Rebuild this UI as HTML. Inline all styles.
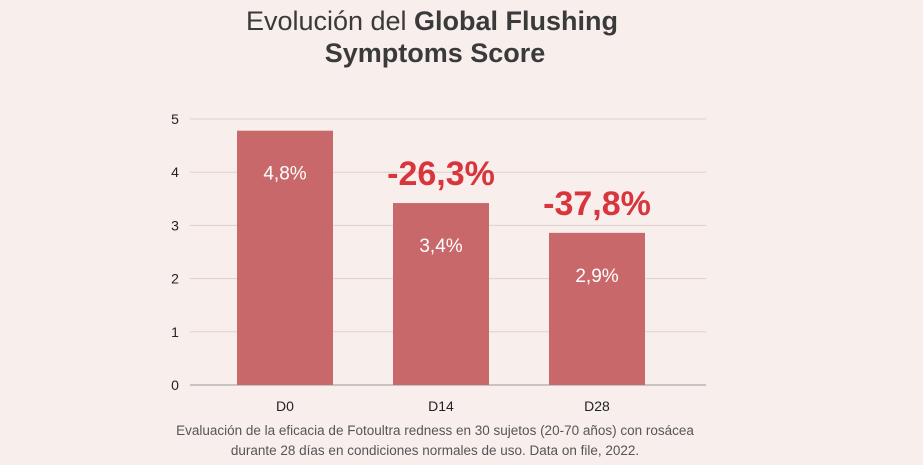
<!DOCTYPE html>
<html><head><meta charset="utf-8"><style>
body{margin:0;background:#f8efed;}
svg{display:block;font-family:"Liberation Sans",sans-serif;}
</style></head><body>
<svg id="chart" width="923" height="465" viewBox="0 0 923 465">
<rect width="923" height="465" fill="#f8efed"/>
<text x="432" y="30" text-anchor="middle" font-size="27" fill="#3a3a3a">Evolución del <tspan font-weight="bold">Global Flushing</tspan></text>
<text x="435" y="62" text-anchor="middle" font-size="27" font-weight="bold" fill="#3a3a3a">Symptoms Score</text>
<g id="grid"></g><g id="bars"></g>
<text x="435" y="435" text-anchor="middle" font-size="13.5" fill="#555">Evaluación de la eficacia de Fotoultra redness en 30 sujetos (20-70 años) con rosácea</text>
<text x="435" y="455" text-anchor="middle" font-size="13.5" fill="#555">durante 28 días en condiciones normales de uso. Data on file, 2022.</text>
</svg>
<script>
const categories=["D0","D14","D28"];
const values=[4.78,3.42,2.86];
const valueLabels=["4,8%","3,4%","2,9%"];
const changeLabels=["","-26,3%","-37,8%"];
const ticks=[0,1,2,3,4,5];
const NS="http://www.w3.org/2000/svg";
const y=v=>385-v*53.2;
const x=i=>237+i*156;
const bw=96;
function mk(t,a,p,txt){const e=document.createElementNS(NS,t);for(const k in a)e.setAttribute(k,a[k]);if(txt!==undefined)e.textContent=txt;p.appendChild(e);return e;}
const grid=document.getElementById('grid'),bars=document.getElementById('bars');
ticks.forEach(t=>{
 const l=mk('line',{x1:190,x2:706,y1:y(t),y2:y(t),stroke:t===0?'#999':'#ddd0ce','stroke-width':1},grid);
 
 
 const tx=mk('text',{x:175,y:y(t)+5,'text-anchor':'middle','font-size':14,fill:'#222'},grid,String(t));
 
 
});
categories.forEach((c,i)=>{
 const r=mk('rect',{x:x(i),y:y(values[i]),width:bw,height:385-y(values[i]),fill:'#c9686a'},bars);
 
 
 const v=mk('text',{x:x(i)+bw/2,y:y(values[i])+49,'text-anchor':'middle','font-size':19,fill:'#fff'},bars,valueLabels[i]);
 
 
 const xl=mk('text',{x:x(i)+bw/2,y:411,'text-anchor':'middle','font-size':14,fill:'#222'},bars,c);
 
 
 if(changeLabels[i]){
  const ch=mk('text',{x:x(i)+bw/2,y:y(values[i])-18,'text-anchor':'middle','font-size':34,'font-weight':'bold',fill:'#d8353d'},bars,changeLabels[i]);
  
  
 }
});
</script>
</body></html>
